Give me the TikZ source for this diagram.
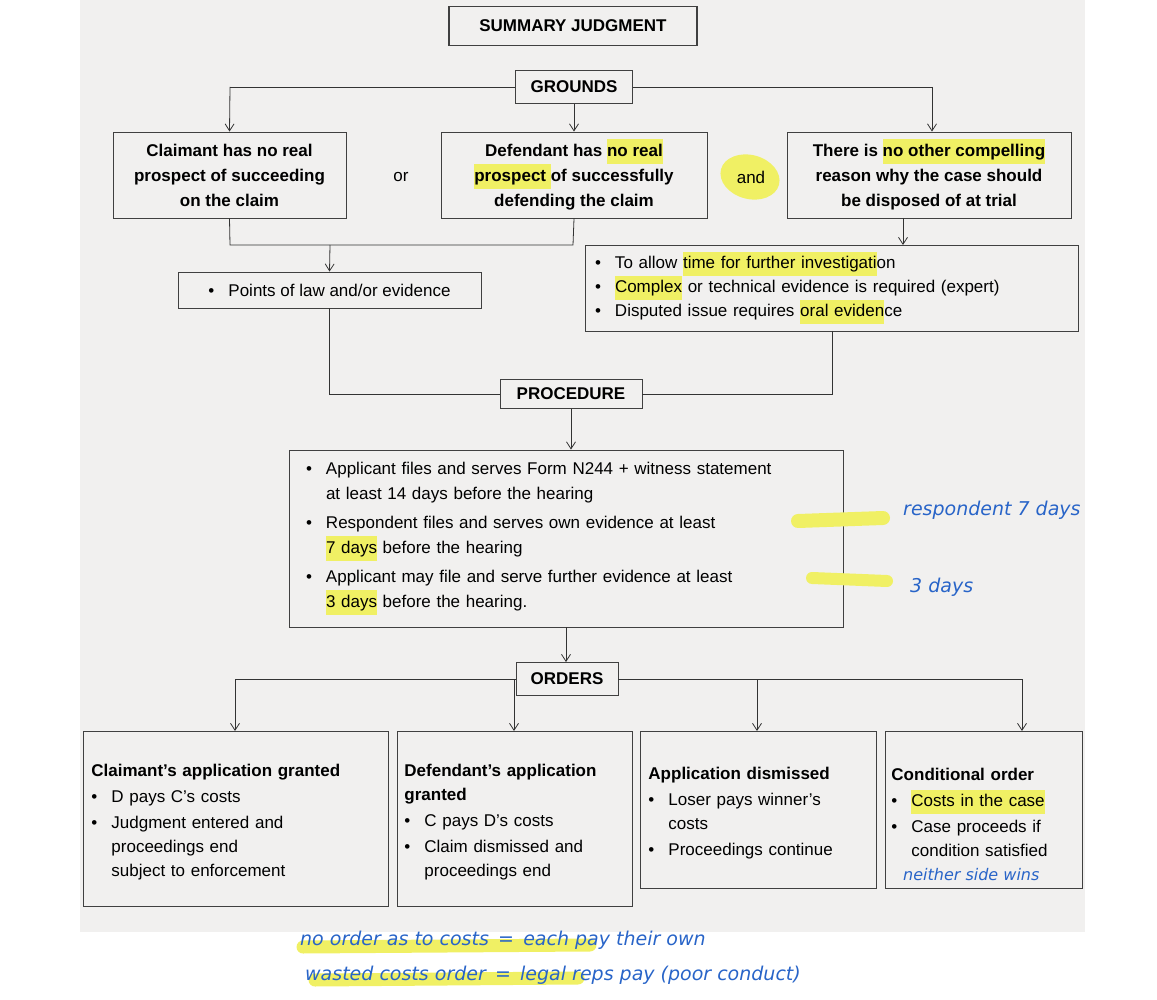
\documentclass[tikz,border=0pt]{standalone}
\usepackage{fontspec}
\setmainfont{Liberation Sans}
\newfontfamily\handfont{DejaVu Sans}
\usetikzlibrary{positioning,arrows.meta}
\definecolor{bgrey}{RGB}{241,240,239}
\definecolor{hly}{RGB}{240,240,100}
\definecolor{penblue}{RGB}{40,100,200}
\newcommand{\hlt}[1]{{\setlength\fboxsep{0pt}\colorbox{hly}{\strut #1}}}
\newcommand{\bul}{\makebox[20pt][l]{\textbullet}}
\begin{document}
\begin{tikzpicture}[x=1pt,y=-1pt,
  box/.style={draw=black!75,line width=0.9pt,inner sep=0pt,font=\fontsize{17}{24}\selectfont},
  head/.style={box,line width=1.4pt,font=\fontsize{17}{24}\selectfont\bfseries},
  txt/.style={box,align=center,font=\fontsize{17}{25}\selectfont\bfseries},
  lst/.style={box,align=left},
  link/.style={draw=black!80,line width=0.8pt},
  arr/.style={link,->,>={Straight Barb[length=7pt,width=9pt]}},
  pen/.style={text=penblue,font=\handfont\itshape\fontsize{19}{22}\selectfont,inner sep=0pt}]
\useasboundingbox (0,0) rectangle (1157,1000);
\fill[bgrey] (80,0) rectangle (1085,932);
% headings
\node[head,minimum width=248pt,minimum height=39pt] (sj) at (573,26) {SUMMARY JUDGMENT};
\node[head,minimum width=117pt,minimum height=33pt] (gr) at (574,87) {GROUNDS};
\node[head,line width=0.9pt,minimum width=142pt,minimum height=29pt] (pr) at (571,394) {PROCEDURE};
\node[head,line width=0.9pt,minimum width=102pt,minimum height=33pt] (or) at (567,679) {ORDERS};
% grounds
\node[txt,minimum width=233pt,minimum height=86pt] (cl) at (229.5,175) {Claimant has no real\\prospect of succeeding\\on the claim};
\node[txt,minimum width=266pt,minimum height=86pt] (df) at (574,175) {Defendant has \hlt{no real}\\\hlt{prospect }of successfully\\defending the claim};
\node[txt,minimum width=284pt,minimum height=86pt] (oc) at (929,175) {There is \hlt{no other compelling}\\reason why the case should\\be disposed of at trial};
\node[font=\fontsize{17}{20}\selectfont] (wor) at (401,177) {or};
\fill[hly,rotate around={-15:(750,177)}] (750,177) ellipse (30pt and 22pt);
\node[font=\fontsize{17}{20}\selectfont] (wand) at (751,177) {and};
\node[lst,minimum width=303pt,minimum height=36pt] (pl) at (329.5,290) {\bul Points of law and/or evidence};
\node[lst,minimum width=493pt,minimum height=86pt,text width=473pt] (rs) at (831.5,288)
  {\bul To allow \hlt{time for further investigati}on\\\bul \hlt{Complex} or technical evidence is required (expert)\\\bul Disputed issue requires \hlt{oral eviden}ce};
% procedure
\node[lst,minimum width=554pt,minimum height=177pt,text width=520pt,font=\fontsize{17}{25.5}\selectfont] (pb) at (566,538.5)
  {\bul Applicant files and serves Form N244 + witness statement\\\hspace*{20pt}at least 14 days before the hearing\\[3pt]
   \bul Respondent files and serves own evidence at least\\\hspace*{20pt}\hlt{7 days} before the hearing\\[3pt]
   \bul Applicant may file and serve further evidence at least\\\hspace*{20pt}\hlt{3 days} before the hearing.};
% orders
\node[lst,minimum width=305pt,minimum height=175pt,text width=289pt,anchor=north west] (o1) at (83,731)
  {\\[-6pt]\textbf{Claimant's application granted}\\[2pt]\bul D pays C's costs\\[2pt]\bul Judgment entered and\\\hspace*{20pt}proceedings end\\\hspace*{20pt}subject to enforcement};
\node[lst,minimum width=235pt,minimum height=175pt,text width=221pt,anchor=north west] (o2) at (397,731)
  {\\[-6pt]\textbf{Defendant's application}\\\textbf{granted}\\[2pt]\bul C pays D's costs\\[2pt]\bul Claim dismissed and\\\hspace*{20pt}proceedings end};
\node[lst,minimum width=236pt,minimum height=157pt,text width=220pt,anchor=north west] (o3) at (640,731)
  {\\[-6pt]\textbf{Application dismissed}\\[2pt]\bul Loser pays winner's\\\hspace*{20pt}costs\\[2pt]\bul Proceedings continue};
\node[lst,minimum width=197pt,minimum height=157pt,text width=185pt,anchor=north west] (o4) at (885,731)
  {\\[-6pt]\textbf{Conditional order}\\[2pt]\bul \hlt{Costs in the case}\\[2pt]\bul Case proceeds if\\\hspace*{20pt}condition satisfied};
% connectors
\coordinate (gl) at (230,87); \coordinate (gr2) at (932,87);
\draw[link] (gr.west) -- (gl); \draw[link] (gr.east) -- (gr2);
\draw[arr] (gl) -- (cl.north);
\draw[arr] (gr.south) -- (df.north);
\draw[arr] (gr2) -- (gr2 |- oc.north);
\coordinate (jl) at (230,245); \coordinate (jr) at (573,245);
\draw[link] (cl.south) -- (jl) -- (jr) -- (df.south);
\draw[arr] (330,245) -- (pl.north);
\draw[arr] (903,218) -- (903,245);
\draw[link] (pl.south) |- (pr.west);
\draw[link] (832,331) |- (pr.east);
\draw[arr] (pr.south) -- (pb.north -| pr.south);
\draw[arr] (pb.south) -- (or.north -| pb.south);
\coordinate (ol) at (235,679); \coordinate (orr) at (1022,679);
\draw[link] (or.west) -- (ol); \draw[link] (or.east) -- (orr);
\draw[arr] (ol) -- (ol |- o1.north);
\draw[arr] (514,679) -- (514,731);
\draw[arr] (757,679) -- (757,731);
\draw[arr] (orr) -- (orr |- o4.north);
% handwriting
\draw[hly,line width=14pt,line cap=round] (798,521) -- (883,518);
\draw[hly,line width=12pt,line cap=round] (812,578) -- (887,581);
\node[pen,anchor=west] (hw1) at (903,510) {respondent 7 days};
\node[pen,anchor=west] (hw2) at (910,587) {3 days};
\node[pen,anchor=west,font=\handfont\itshape\fontsize{16}{18}\selectfont] (hw3) at (903,875) {neither side wins};
\draw[hly,line width=13pt,line cap=round] (303,947) -- (590,945);
\draw[hly,line width=13pt,line cap=round] (315,980) -- (578,978);
\node[pen,anchor=west] (hw4) at (300,940) {no order as to costs \,=\, each pay their own};
\node[pen,anchor=west] (hw5) at (305,975) {wasted costs order \,=\, legal reps pay (poor conduct)};
\end{tikzpicture}
\end{document}
